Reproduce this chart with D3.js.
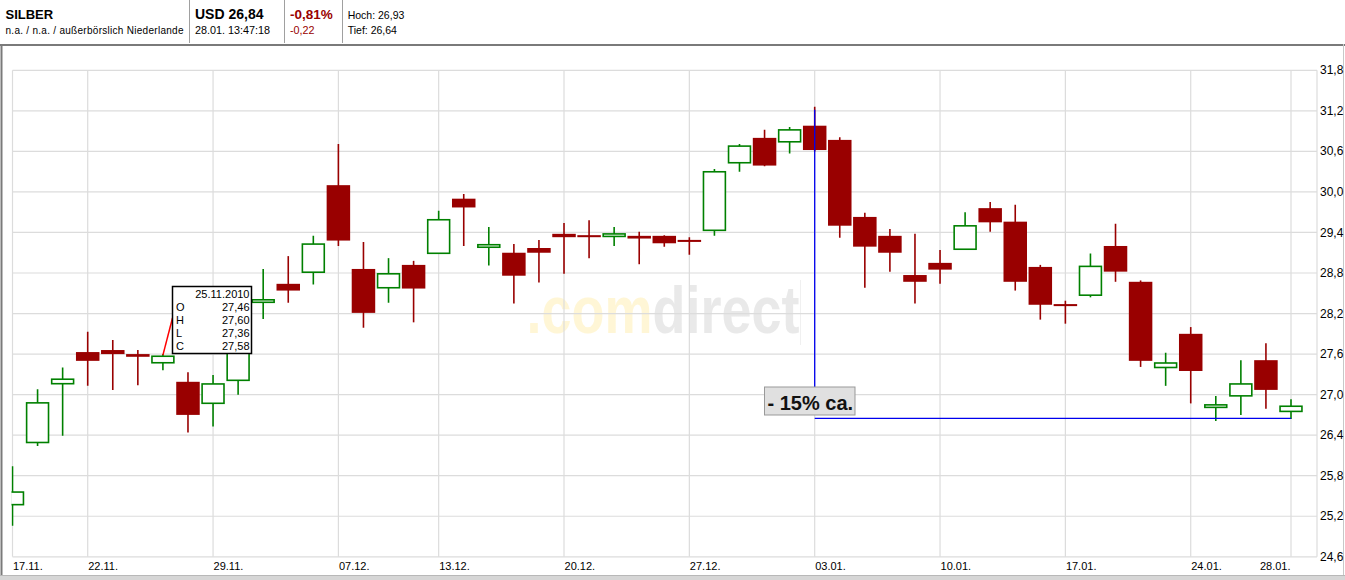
<!DOCTYPE html>
<html>
<head>
<meta charset="utf-8">
<script src="https://cdn.jsdelivr.net/npm/d3@7"></script>
<style>
  html, body { margin: 0; padding: 0; background: #fff; }
  svg { display: block; font-family: "Liberation Sans", Arial, sans-serif; }
</style>
</head>
<body>
<svg id="chart" width="1345" height="580"></svg>
<script>
// ---------------- DATA ----------------
const dates = ["17.11.","18.11.","19.11.","22.11.","23.11.","24.11.","25.11.","26.11.",
  "29.11.","30.11.","01.12.","02.12.","03.12.","07.12.","08.12.","09.12.","10.12.",
  "13.12.","14.12.","15.12.","16.12.","17.12.","20.12.","21.12.","22.12.","23.12.","24.12.",
  "27.12.","28.12.","29.12.","30.12.","31.12.","03.01.","04.01.","05.01.","06.01.","07.01.",
  "10.01.","11.01.","12.01.","13.01.","14.01.","17.01.","18.01.","19.01.","20.01.","21.01.",
  "24.01.","25.01.","26.01.","27.01.","28.01."];
const open  = [25.36,26.28,27.15,27.63,27.66,27.60,27.46,27.19,26.86,27.20,28.37,28.64,28.80,30.10,28.86,28.57,28.92,
  29.08,29.90,29.17,29.10,29.17,29.38,29.36,29.34,29.35,29.35,29.29,29.42,30.42,30.80,30.73,30.98,30.77,29.63,29.35,28.77,
  28.95,29.14,29.76,29.56,28.89,28.34,28.46,29.20,28.67,27.39,27.90,26.80,26.97,27.51,26.74];
const high  = [25.94,27.08,27.40,27.93,27.81,27.66,27.60,27.33,27.29,28.10,28.86,29.05,29.35,30.71,29.26,29.02,28.98,
  29.72,29.97,29.48,29.23,29.29,29.54,29.58,29.48,29.41,29.36,29.33,30.34,30.71,30.92,30.96,31.26,30.81,29.69,29.45,29.38,
  29.14,29.70,29.85,29.81,28.92,28.39,29.09,29.53,28.69,27.62,28.00,26.98,27.51,27.76,26.93];
const low   = [25.06,26.24,26.39,27.13,27.07,27.14,27.36,26.44,26.53,27.00,28.12,28.36,28.63,29.20,27.99,28.36,28.07,
  29.08,29.20,28.91,28.35,28.66,28.79,29.02,29.20,28.93,29.19,29.07,29.35,30.30,30.38,30.57,30.60,29.32,28.58,28.82,28.35,
  28.64,29.14,29.41,28.54,28.11,28.05,28.44,28.67,27.41,27.13,26.87,26.61,26.70,26.79,26.64];
const close = [25.57,26.89,27.24,27.50,27.60,27.56,27.58,26.70,27.17,27.95,28.40,28.54,29.24,29.28,28.21,28.80,28.57,
  29.60,29.77,29.23,28.76,29.10,29.33,29.33,29.38,29.31,29.24,29.26,30.31,30.69,30.39,30.93,30.62,29.50,29.19,29.10,28.67,
  28.85,29.51,29.55,28.67,28.33,28.31,28.91,28.82,27.50,27.48,27.35,26.86,27.17,27.07,26.84];

const xTickLabels = ["17.11.","22.11.","29.11.","07.12.","13.12.","20.12.","27.12.","03.01.","10.01.","17.01.","24.01.","28.01."];
const yTicks = [24.6,25.2,25.8,26.4,27.0,27.6,28.2,28.8,29.4,30.0,30.6,31.2,31.8];

// tooltip content (25.11.2010)
const tooltipDate = "25.11.";
const tooltipTitle = "25.11.2010";
const tooltipKeys = ["O","H","L","C"];
const tooltipVals = ["27,46","27,60","27,36","27,58"];

// annotation
const annotDate = "03.01.";
const annotEndDate = "28.01.";
const annotHigh = 31.26;
const annotLevel = 26.65;
const annotText = "- 15% ca.";

// header
const headerName = "SILBER";
const headerSub = "n.a. / n.a. / außerbörslich Niederlande";
const headerPrice = "USD 26,84";
const headerTime = "28.01. 13:47:18";
const headerPct = "-0,81%";
const headerChg = "-0,22";
const headerHigh = "Hoch: 26,93";
const headerLow = "Tief: 26,64";

// ---------------- DRAW ----------------
const svg = d3.select("#chart");
const W = 1345, H = 580;
const plotL = 12.5, plotR = 1317, plotT = 70.3, plotB = 556.8;

const x = d3.scalePoint().domain(dates).range([12.5, 1291]);
const y = d3.scaleLinear().domain([24.6, 31.8]).range([plotB, plotT]);

svg.append("rect").attr("width", W).attr("height", H).attr("fill", "#fff");

// header
const hdr = svg.append("g");
[189.5, 284.5, 342.5].forEach(v => hdr.append("line").attr("x1", v).attr("x2", v).attr("y1", 0).attr("y2", 43)
  .attr("stroke", "#a0a0a0").attr("stroke-width", 1));
hdr.append("text").attr("x", 5.5).attr("y", 18.5).attr("font-size", 13).attr("font-weight", "bold").text(headerName);
hdr.append("text").attr("x", 5.5).attr("y", 34).attr("font-size", 10).attr("textLength", 178).text(headerSub);
hdr.append("text").attr("x", 195).attr("y", 18.5).attr("font-size", 14).attr("font-weight", "bold").text(headerPrice);
hdr.append("text").attr("x", 195).attr("y", 34).attr("font-size", 10.8).text(headerTime);
hdr.append("text").attr("x", 290).attr("y", 18.5).attr("font-size", 13.5).attr("font-weight", "bold").attr("fill", "#990000").text(headerPct);
hdr.append("text").attr("x", 290).attr("y", 34).attr("font-size", 10.8).attr("fill", "#990000").text(headerChg);
hdr.append("text").attr("x", 347.7).attr("y", 19).attr("font-size", 10.5).text(headerHigh);
hdr.append("text").attr("x", 347.7).attr("y", 34).attr("font-size", 10.5).text(headerLow);

// frame
svg.append("line").attr("x1", 0).attr("x2", W).attr("y1", 45).attr("y2", 45).attr("stroke", "#7a7a7a").attr("stroke-width", 2);
svg.append("line").attr("x1", 1.5).attr("x2", 1.5).attr("y1", 44).attr("y2", 576).attr("stroke", "#7a7a7a").attr("stroke-width", 2);
svg.append("line").attr("x1", 1343.5).attr("x2", 1343.5).attr("y1", 44).attr("y2", 576).attr("stroke", "#c8c8c8").attr("stroke-width", 1);
svg.append("rect").attr("x", 0).attr("y", 575).attr("width", W).attr("height", 5).attr("fill", "#d6d6d6");
svg.append("line").attr("x1", 0).attr("x2", W).attr("y1", 575.5).attr("y2", 575.5).attr("stroke", "#b8b8b8");

// watermark (one text, two-colour fill via hard-stop gradient)
const defs = svg.append("defs");
const grad = defs.append("linearGradient").attr("id", "wmGrad")
  .attr("gradientUnits", "userSpaceOnUse").attr("x1", 526).attr("x2", 800).attr("y1", 0).attr("y2", 0);
const split = (653 - 526) / (800 - 526);
grad.append("stop").attr("offset", 0).attr("stop-color", "#fff6d6");
grad.append("stop").attr("offset", split).attr("stop-color", "#fff6d6");
grad.append("stop").attr("offset", split).attr("stop-color", "#e9e9e9");
grad.append("stop").attr("offset", 1).attr("stop-color", "#e9e9e9");
const wm = svg.append("g");
wm.append("text").attr("x", 526.5).attr("y", 333.3).attr("font-size", 67).attr("font-weight", "bold")
  .attr("textLength", 273).attr("lengthAdjust", "spacingAndGlyphs").attr("fill", "url(#wmGrad)").text(".comdirect");
wm.append("line").attr("x1", 800.5).attr("x2", 800.5).attr("y1", 280).attr("y2", 345).attr("stroke", "#f0f0f0");

// grid
const grid = svg.append("g").attr("stroke", "#dcdcdc").attr("stroke-width", 1.2);
yTicks.forEach(t => grid.append("line").attr("x1", plotL).attr("x2", plotR).attr("y1", y(t)).attr("y2", y(t)));
xTickLabels.forEach(d => grid.append("line").attr("x1", x(d)).attr("x2", x(d)).attr("y1", plotT).attr("y2", plotB));
grid.append("line").attr("x1", plotR).attr("x2", plotR).attr("y1", plotT).attr("y2", plotB);

// y axis labels (right)
const yAxis = d3.axisRight(y).tickValues(yTicks).tickSize(0).tickPadding(3)
  .tickFormat(d => d3.format(".1f")(d).replace(".", ","));
const ya = svg.append("g").attr("transform", `translate(${plotR},0)`).call(yAxis);
ya.select(".domain").remove();
ya.selectAll("text").attr("font-size", 12).attr("fill", "#000").attr("dy", "0.3em")
  .attr("font-family", "'Liberation Sans', Arial, sans-serif");

// x axis labels
const xAxis = d3.axisBottom(x).tickValues(xTickLabels).tickSize(0).tickPadding(0);
const xa = svg.append("g").attr("transform", `translate(0,${plotB})`).call(xAxis);
xa.select(".domain").remove();
const lastLabel = xTickLabels[xTickLabels.length - 1];
xa.selectAll("text").attr("font-size", 11).attr("fill", "#000")
  .attr("text-anchor", d => d === lastLabel ? "end" : "start")
  .attr("x", d => d === lastLabel ? -1 : 0)
  .attr("y", 13.5).attr("dy", 0).attr("font-family", "'Liberation Sans', Arial, sans-serif");

// candles
svg.append("clipPath").attr("id", "clip").append("rect")
  .attr("x", 11.5).attr("y", plotT - 5).attr("width", plotR - 11.5).attr("height", plotB - plotT + 10);
const data = dates.map((d, i) => ({ d, o: open[i], h: high[i], l: low[i], c: close[i] }));
const bw = 23.5;
const green = "#008000", red = "#990000";
const cg = svg.append("g").attr("clip-path", "url(#clip)");
const cs = cg.selectAll("g.candle").data(data).join("g").attr("class", "candle");
cs.append("line")
  .attr("x1", d => x(d.d)).attr("x2", d => x(d.d))
  .attr("y1", d => y(d.h)).attr("y2", d => y(d.l))
  .attr("stroke", d => d.c >= d.o ? green : red).attr("stroke-width", 1.6);
cs.append("rect")
  .attr("x", d => d.c >= d.o ? x(d.d) - bw / 2 + 0.8 : x(d.d) - bw / 2)
  .attr("width", d => d.c >= d.o ? bw - 1.6 : bw)
  .attr("y", d => {
    if (d.c >= d.o) {
      const hgt = Math.abs(y(d.o) - y(d.c));
      const mid = (y(d.o) + y(d.c)) / 2;
      return hgt - 1.6 < 2.5 ? mid - 1.25 : y(d.c) + 0.8;
    }
    return y(d.o);
  })
  .attr("height", d => {
    const hgt = Math.abs(y(d.o) - y(d.c));
    return d.c >= d.o ? Math.max(hgt - 1.6, 2.5) : Math.max(hgt, 2);
  })
  .attr("fill", d => d.c >= d.o ? "#fff" : red)
  .attr("stroke", d => d.c >= d.o ? green : "none")
  .attr("stroke-width", 1.6);

// annotation: vertical + horizontal blue lines, label box
const ax = x(annotDate);
const boxTop = 387, boxH = 28;
svg.append("line").attr("x1", ax).attr("x2", ax).attr("y1", y(annotHigh) + 3).attr("y2", boxTop)
  .attr("stroke", "#0000ee").attr("stroke-width", 1.3);
svg.append("line").attr("x1", ax).attr("x2", x(annotEndDate)).attr("y1", y(annotLevel)).attr("y2", y(annotLevel))
  .attr("stroke", "#0000ee").attr("stroke-width", 1.3);
svg.append("rect").attr("x", 764.5).attr("y", boxTop).attr("width", 90.5).attr("height", boxH)
  .attr("fill", "#e0e0e0").attr("stroke", "#999").attr("stroke-width", 1);
svg.append("text").attr("x", 767.5).attr("y", 410).attr("font-size", 20).attr("font-weight", "bold")
  .attr("fill", "#111").text(annotText);

// tooltip
const tx = x(tooltipDate);
const ti = dates.indexOf(tooltipDate);
const tipX = 172.5, tipY = 286.5, tipW = 79, tipH = 67;
svg.append("line").attr("x1", tx).attr("x2", tipX).attr("y1", y(high[ti]) + 1).attr("y2", 318)
  .attr("stroke", "#ff0000").attr("stroke-width", 1.5);
svg.append("rect").attr("x", tipX).attr("y", tipY).attr("width", tipW).attr("height", tipH)
  .attr("fill", "#fff").attr("stroke", "#000").attr("stroke-width", 1.5);
svg.append("text").attr("x", tipX + 77).attr("y", 297.7).attr("font-size", 11).attr("text-anchor", "end").text(tooltipTitle);
tooltipKeys.forEach((k, i) => {
  const by = 311 + i * 13.1;
  svg.append("text").attr("x", 176).attr("y", by).attr("font-size", 11).text(k);
  svg.append("text").attr("x", tipX + 77).attr("y", by).attr("font-size", 11).attr("text-anchor", "end").text(tooltipVals[i]);
});
</script>
</body>
</html>
